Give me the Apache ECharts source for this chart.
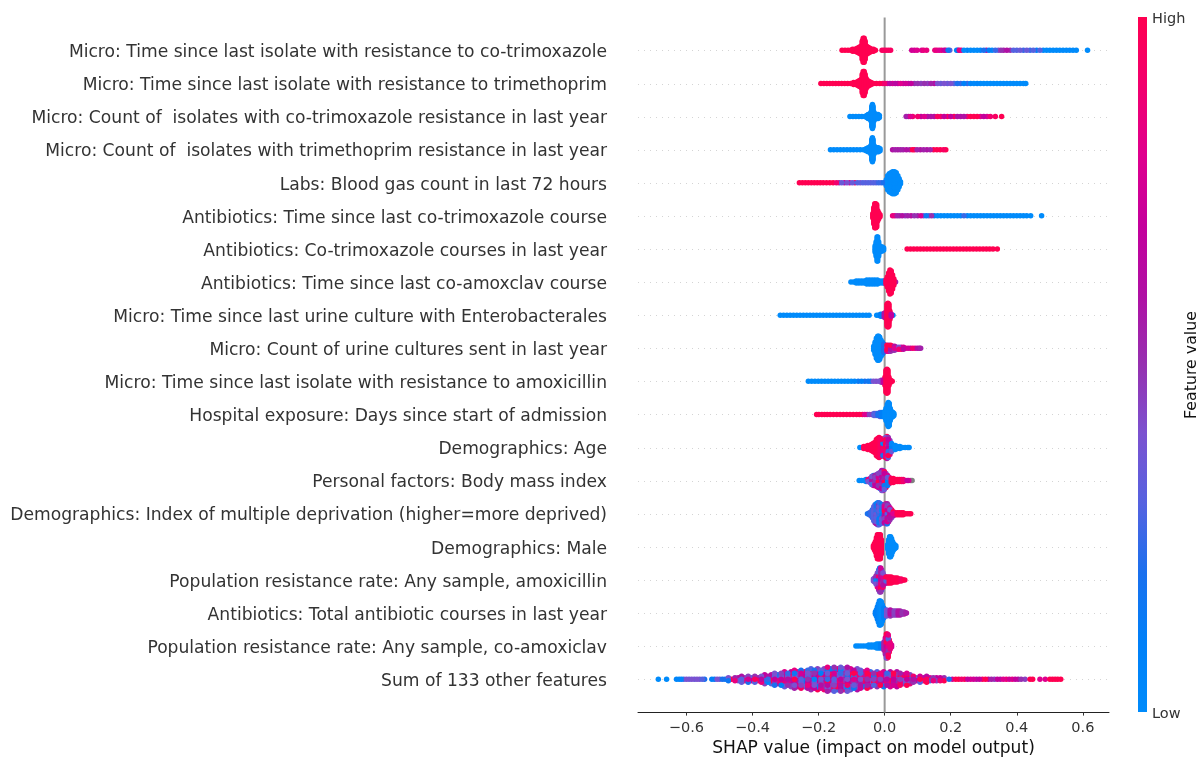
<!DOCTYPE html>
<html><head><meta charset="utf-8">
<style>html,body{margin:0;padding:0;background:#fff}#c{width:1204px;height:763px}</style>
<script src="https://cdn.jsdelivr.net/npm/echarts@6/dist/echarts.min.js"></script>
</head><body><div id="c"></div>
<script>
const features = [
"Micro: Time since last isolate with resistance to co-trimoxazole",
"Micro: Time since last isolate with resistance to trimethoprim",
"Micro: Count of  isolates with co-trimoxazole resistance in last year",
"Micro: Count of  isolates with trimethoprim resistance in last year",
"Labs: Blood gas count in last 72 hours",
"Antibiotics: Time since last co-trimoxazole course",
"Antibiotics: Co-trimoxazole courses in last year",
"Antibiotics: Time since last co-amoxclav course",
"Micro: Time since last urine culture with Enterobacterales",
"Micro: Count of urine cultures sent in last year",
"Micro: Time since last isolate with resistance to amoxicillin",
"Hospital exposure: Days since start of admission",
"Demographics: Age",
"Personal factors: Body mass index",
"Demographics: Index of multiple deprivation (higher=more deprived)",
"Demographics: Male",
"Population resistance rate: Any sample, amoxicillin",
"Antibiotics: Total antibiotic courses in last year",
"Population resistance rate: Any sample, co-amoxiclav",
"Sum of 133 other features"];
const xTicks = [-0.6,-0.4,-0.2,0,0.2,0.4,0.6];
const rampColors = ['#008bfb','#0080f8','#1a70ee','#5562e0','#7b52d0','#9630b0','#b010a4','#c4009c','#df008e','#f2006e','#ff0051'];

const mixCool = [.4,.2,.7,.35,.9,.45,.1,.6,.35,.8,.25,.5,1,.35,.65,.15,.4,.85,.55,.3,.6,.35,.75,.45,.2,.95,.5,.3,.65,.4,.85,.25,.6,.05,.7,.35,.5];
const mixBlob = [.6,.4,1,.45,.75,.55,.15,.85,.45,.7,.35,.95,.6,.25,.8,.45,.7,1,.5,.3,.65,.85,.4,.6,.15,.75,1,.45,.6,.35,.8,.65,.5,.3,.9,.45,.7];
const mixWarm = [.9,.6,1,.75,.45,1,.85,.55,.95,.7,1,.4,.8,1,.6,.9,.5,1,.75,.3,.95,.65,1,.85,.5,.9,.7,1,.55,.8,1,.45,.95,.6,.85,1,.7];
const mixBlue = [.25,.1,.4,.2,.05,.35,.15,.5,.25,.3,.1,.45,.2,.35,.05,.6,.25,.15,.4,.3,.1,.5,.2,.35,.15,.75,.3];
const mixPurple = [.55,.7,.45,.8,.6,.5,.9,.4,.65,.75,.5,.6,.85,.45,.7,.55,1,.4,.6,.75,.5];
const mixRedBlue = [1,.9,.7,1,.05,.85,1,.6,.95,.2,1,.75,.5,1,.9,.1,.7,1,.85,.4,1,.65,.95];

const row0 = [[-.129,1,1],[-.12,1,1],[-.111,1,1],[-.103,1,1],[-.097,2,1],[-.09,2,1],[-.083,3,1],[-.077,4,1],[-.072,5,1],[-.068,10,1],[-.065,13,1],[-.062,13,1],[-.059,10,1],[-.055,5,1],[-.05,4,1],[-.045,3,1],[-.04,2,1],[-.034,2,1],[-.028,1,1],[-.008,1,.95],[-.002,1,.95],[.004,1,.95],[.011,1,.95],[.018,1,.95],[.082,1,.75],[.09,1,.75],[.098,1,.8],[.112,1,.8],[.118,1,.85],[.127,1,.85],[.152,1,.85],[.158,1,.9],[.165,1,.8],[.172,1,.9],[.18,1,.7],[.185,1,.9],[.192,1,.15],[.197,1,.3],[.218,1,.1],[.222,1,.6],[.226,1,.85],[.232,1,.8],[.24,1,0],[.25,1,.1],[.26,1,0],[.27,1,0],[.28,1,0],[.29,1,.05],[.3,1,.2],[.308,1,.6],[.316,1,.1],[.325,1,0],[.335,1,.25],[.344,1,.4],[.352,1,.5],[.36,1,.55],[.37,1,.6],[.38,1,.5],[.39,1,.3],[.4,1,.3],[.41,1,.35],[.42,1,.25],[.43,1,.35],[.44,1,.25],[.45,1,.3],[.46,1,.1],[.47,1,.3],[.48,1,0],[.49,1,0],[.5,1,0],[.51,1,0],[.52,1,0],[.53,1,0],[.54,1,0],[.55,1,0],[.56,1,0],[.57,1,0],[.58,1,0],[.614,1,0]];
const row1 = [[-.193,1,1],[-.184,1,1],[-.175,1,1],[-.166,1,1],[-.157,1,1],[-.148,1,1],[-.139,1,1],[-.13,1,1],[-.121,1,1],[-.112,1,1],[-.103,1,1],[-.094,2,1],[-.087,2,1],[-.081,3,1],[-.076,4,1],[-.071,5,1],[-.068,10,1],[-.065,13,1],[-.062,13,1],[-.059,10,1],[-.056,6,1],[-.052,4,1],[-.047,3,1],[-.041,2,1],[-.034,1,1],[-.025,1,1],[-.015,1,1],[-.006,1,.95],[0,1,.9],[.008,1,.75],[.016,1,.65],[.024,1,.8],[.032,1,.65],[.04,1,.7],[.048,1,.8],[.056,1,.65],[.064,1,.75],[.072,1,.6],[.08,1,.7],[.09,1,.5],[.1,1,.5],[.11,1,.45],[.12,1,.5],[.13,1,.45],[.14,1,.55],[.15,1,.65],[.16,1,.4],[.17,1,.35],[.18,1,.4],[.19,1,.35],[.2,1,.4],[.21,1,.3],[.22,1,.2],[.23,1,.25],[.24,1,.1],[.25,1,.25],[.26,1,.05],[.27,1,0],[.28,1,.05],[.29,1,0],[.3,1,0],[.31,1,0],[.32,1,0],[.33,1,0],[.34,1,0],[.35,1,0],[.36,1,0],[.37,1,0],[.38,1,0],[.39,1,0],[.4,1,0],[.41,1,0],[.42,1,0],[.427,1,0]];
const row2 = [[-.105,1,0],[-.096,1,0],[-.087,1,0],[-.078,1,0],[-.069,1,0],[-.06,1,0],[-.054,2,0],[-.05,3,0],[-.046,3,0],[-.042,5,0],[-.039,11,0],[-.037,13,0],[-.035,11,0],[-.032,5,0],[-.028,3,0],[-.024,3,0],[-.02,3,0],[-.016,2,0],[.065,1,.55],[.072,1,.6],[.078,1,.8],[.085,1,.9],[.1,1,.9],[.11,1,.7],[.12,1,.8],[.13,1,.6],[.14,1,.6],[.15,1,.65],[.16,1,.95],[.17,1,.9],[.18,1,.7],[.19,1,.95],[.2,1,.7],[.21,1,1],[.22,1,.6],[.23,1,.6],[.24,1,.6],[.25,1,.9],[.26,1,1],[.27,1,1],[.28,1,1],[.29,1,.8],[.3,1,.7],[.31,1,.8],[.32,1,.9],[.335,1,.95],[.354,1,1]];
const row3 = [[-.164,1,0],[-.154,1,0],[-.144,1,0],[-.134,1,0],[-.124,1,0],[-.114,1,0],[-.104,1,0],[-.094,1,0],[-.084,1,0],[-.074,1,0],[-.064,1,0],[-.056,2,0],[-.05,3,0],[-.046,3,0],[-.042,5,0],[-.039,11,0],[-.037,13,0],[-.035,11,0],[-.032,5,0],[-.028,3,0],[-.024,3,0],[-.019,3,0],[-.014,2,0],[.024,1,.6],[.032,1,.55],[.04,1,.6],[.048,1,.55],[.056,1,.55],[.066,1,.6],[.076,1,.55],[.084,1,1],[.09,1,1],[.098,1,.55],[.108,1,.6],[.118,1,.55],[.128,1,.6],[.138,1,.55],[.148,1,1],[.158,1,1],[.168,1,1],[.178,1,.95],[.185,1,1]];
const row4 = [[-.258,1,1],[-.249,1,1],[-.24,1,1],[-.231,1,1],[-.222,1,1],[-.213,1,1],[-.204,1,1],[-.195,1,1],[-.186,1,1],[-.176,1,1],[-.166,1,1],[-.156,1,1],[-.146,1,.9],[-.138,1,.55],[-.13,1,.35],[-.122,1,.7],[-.114,1,.4],[-.106,1,.75],[-.098,1,.35],[-.09,1,.9],[-.082,1,.3],[-.074,1,.4],[-.066,1,.3],[-.058,1,.35],[-.05,1,.3],[-.042,1,.35],[-.034,1,.3],[-.026,1,.3],[-.018,1,.25],[-.01,1,.25],[-.003,1,.2],[.005,4,0],[.009,8,0],[.014,10,0],[.019,11,0],[.024,12,0],[.03,12,0],[.035,11,0],[.04,8,0],[.044,5,0],[.048,2,0]];
const row5 = [[-.036,3,1],[-.033,9,1],[-.03,13,1],[-.027,13,1],[-.024,12,1],[-.021,6,1],[-.018,4,1],[-.014,2,1],[.024,1,.85],[.031,1,.8],[.038,1,.55],[.045,1,.5],[.053,1,.6],[.062,1,.45],[.07,1,.55],[.08,1,.65],[.09,1,.5],[.1,1,.55],[.11,1,.75],[.118,1,.3],[.126,1,.15],[.134,1,.3],[.142,1,.5],[.15,1,.1],[.16,1,0],[.17,1,0],[.18,1,0],[.19,1,0],[.2,1,0],[.21,1,0],[.22,1,0],[.23,1,.05],[.24,1,.25],[.25,1,.05],[.26,1,0],[.27,1,0],[.28,1,0],[.29,1,0],[.3,1,0],[.31,1,0],[.32,1,0],[.33,1,0],[.34,1,0],[.35,1,0],[.36,1,0],[.37,1,0],[.38,1,0],[.39,1,0],[.4,1,0],[.41,1,0],[.42,1,0],[.43,1,0],[.442,1,0],[.475,1,0]];
const row6 = [[-.029,4,0],[-.026,8,0],[-.023,13,0],[-.021,13,0],[-.018,8,0],[-.015,4,0],[-.011,3,0],[-.007,3,0],[-.003,2,0],[.068,1,1],[.078,1,1],[.088,1,1],[.098,1,1],[.108,1,1],[.118,1,1],[.128,1,1],[.138,1,1],[.148,1,1],[.158,1,1],[.168,1,1],[.178,1,1],[.188,1,1],[.198,1,1],[.208,1,1],[.218,1,1],[.228,1,1],[.238,1,1],[.248,1,1],[.258,1,1],[.268,1,1],[.278,1,1],[.288,1,1],[.298,1,1],[.308,1,1],[.318,1,1],[.328,1,1],[.341,1,1]];
const row7 = [[-.102,1,0],[-.094,1,0],[-.086,2,0],[-.078,2,0],[-.07,2,0],[-.062,2,0],[-.054,3,0],[-.046,3,0],[-.038,3,0],[-.03,3,0],[-.022,3,0],[-.014,2,0],[-.006,2,0],[.0,2,.05],[.004,3,1],[.008,6,1],[.012,10,1],[.016,13,1],[.02,12,1],[.024,8,1],[.028,4,1],[.033,1,.55]];
const row8 = [[-.316,1,0],[-.306,1,0],[-.296,1,0],[-.286,1,0],[-.276,1,0],[-.266,1,0],[-.256,1,0],[-.246,1,0],[-.236,1,0],[-.226,1,0],[-.216,1,0],[-.206,1,0],[-.196,1,0],[-.186,1,0],[-.176,1,0],[-.166,1,0],[-.156,1,0],[-.146,1,0],[-.136,1,0],[-.126,1,0],[-.116,1,0],[-.106,1,0],[-.096,1,0],[-.086,1,0],[-.076,1,0],[-.066,1,0],[-.056,1,0],[-.047,1,0],[-.024,1,0],[-.018,1,.05],[-.012,2,.1],[-.006,2,.7],[-.001,3,.6],[.004,4,1],[.007,12,1],[.01,13,1],[.013,12,1],[.016,5,1],[.02,2,.7],[.025,1,.1]];
const row9 = [[-.033,3,0],[-.029,7,0],[-.025,11,0],[-.021,13,0],[-.018,13,0],[-.015,12,0],[-.011,9,0],[-.007,7,.1],[-.003,5,.2],[.002,4,mixCool],[.007,4,mixWarm],[.012,4,mixWarm],[.018,4,mixWarm],[.024,3,mixWarm],[.03,3,mixPurple],[.036,2,mixPurple],[.043,2,mixPurple],[.05,2,mixWarm],[.057,2,mixPurple],[.064,1,.9],[.071,1,.75],[.078,1,.7],[.085,1,.9],[.092,1,.8],[.099,1,.6],[.105,1,.6],[.109,1,.55]];
const row10 = [[-.231,1,0],[-.221,1,0],[-.211,1,0],[-.201,1,0],[-.191,1,0],[-.181,1,0],[-.171,1,0],[-.161,1,0],[-.151,1,0],[-.141,1,0],[-.131,1,0],[-.121,1,0],[-.111,1,0],[-.101,1,0],[-.091,1,.05],[-.08,1,.15],[-.07,1,.1],[-.06,1,.2],[-.05,1,.15],[-.042,1,.2],[-.034,1,.4],[-.026,1,.45],[-.018,1,.4],[-.01,2,.5],[-.004,2,.7],[.001,5,1],[.004,12,1],[.007,13,1],[.01,12,1],[.013,5,1],[.018,2,1],[.023,1,1]];
const row11 = [[-.206,1,1],[-.199,1,1],[-.19,1,1],[-.182,1,1],[-.174,1,1],[-.165,1,1],[-.155,1,1],[-.145,1,1],[-.135,1,1],[-.125,1,1],[-.115,1,1],[-.105,1,1],[-.095,1,1],[-.085,1,1],[-.076,1,1],[-.067,1,.95],[-.06,1,.8],[-.053,1,.55],[-.046,1,.45],[-.039,1,.55],[-.032,2,.3],[-.026,2,.4],[-.02,2,.2],[-.014,3,.35],[-.008,3,.1],[-.003,3,0],[.001,4,0],[.004,7,0],[.008,11,0],[.011,13,0],[.014,12,0],[.017,7,0],[.021,4,0],[.025,3,0],[.028,2,0]];
const row12 = [[-.075,1,0],[-.069,1,.8],[-.063,2,1],[-.057,2,1],[-.051,3,1],[-.045,3,1],[-.04,4,1],[-.035,5,1],[-.03,6,1],[-.025,9,1],[-.021,10,1],[-.017,11,1],[-.013,10,.95],[-.009,9,.9],[-.005,9,mixRedBlue],[-.001,10,mixWarm],[.003,11,mixRedBlue],[.007,12,mixWarm],[.011,11,mixBlob],[.016,8,mixBlob],[.021,5,mixBlue],[.026,3,.1],[.032,3,0],[.038,2,0],[.046,2,0],[.054,1,0],[.062,1,0],[.07,1,0],[.074,1,0]];
const row13 = [[-.077,1,0],[-.07,1,0],[-.063,1,0],[-.056,2,.1],[-.05,2,mixCool],[-.044,3,.45],[-.039,5,mixBlue],[-.034,6,mixCool],[-.029,6,mixPurple],[-.024,7,mixCool],[-.019,8,mixPurple],[-.014,9,mixBlue],[-.009,11,mixBlob],[-.005,11,mixCool],[-.001,10,mixBlob],[.004,8,mixBlob],[.009,6,mixBlue],[.014,4,mixWarm],[.02,3,1],[.026,3,1],[.032,2,1],[.038,2,1],[.044,2,1],[.05,2,1],[.056,2,.9],[.062,1,1],[.068,1,.7],[.073,1,.75]];
const row14 = [[-.052,1,.2],[-.046,2,.3],[-.041,3,.25],[-.037,5,.2],[-.033,8,.3],[-.029,10,mixBlue],[-.025,11,mixBlue],[-.021,12,mixBlue],[-.017,12,mixBlue],[-.013,11,mixBlue],[-.009,10,mixBlue],[-.005,10,mixCool],[-.001,10,mixBlob],[.004,11,mixBlob],[.008,11,mixBlob],[.012,9,mixPurple],[.016,7,mixPurple],[.021,5,mixWarm],[.026,3,mixWarm],[.032,2,mixPurple],[.038,2,1],[.044,2,1],[.05,2,1],[.056,2,1],[.062,1,1],[.068,1,1],[.074,1,1],[.079,1,1]];
const row15 = [[-.034,2,1],[-.031,4,1],[-.028,6,1],[-.025,10,1],[-.022,13,1],[-.019,13,1],[-.016,13,1],[-.013,13,1],[-.01,8,1],[.009,3,0],[.012,8,0],[.015,11,0],[.018,11,0],[.021,9,0],[.024,6,0],[.027,4,0],[.03,3,0],[.034,2,0]];
const row16 = [[-.034,2,.4],[-.03,3,.45],[-.026,5,mixCool],[-.022,8,mixPurple],[-.018,11,mixCool],[-.015,13,mixCool],[-.012,13,mixPurple],[-.009,11,mixCool],[-.005,8,mixPurple],[-.001,5,mixCool],[.004,4,mixWarm],[.009,4,mixWarm],[.014,4,1],[.02,4,1],[.026,3,1],[.032,3,1],[.038,3,1],[.044,2,1],[.05,2,.95],[.056,1,1],[.061,1,1]];
const row17 = [[-.028,2,.1],[-.025,4,0],[-.022,7,.1],[-.019,10,0],[-.016,13,.05],[-.013,13,0],[-.01,12,0],[-.007,9,.05],[-.003,6,.1],[.001,4,.2],[.006,4,.4],[.011,3,.45],[.017,4,mixPurple],[.023,3,.5],[.029,3,.45],[.035,3,.5],[.041,3,.6],[.047,3,.55],[.053,2,.5],[.059,2,.6],[.064,1,.55],[.066,1,.6]];
const row18 = [[-.087,1,0],[-.08,1,0],[-.072,1,0],[-.064,1,0],[-.056,1,0],[-.048,2,0],[-.04,2,0],[-.032,2,0],[-.024,3,0],[-.018,3,.05],[-.012,3,.1],[-.006,3,.3],[-.002,5,.55],[.002,9,mixPurple],[.005,13,mixWarm],[.008,13,mixWarm],[.011,12,mixWarm],[.014,7,1],[.017,4,.85],[.021,2,.75]];
const row19 = [[-.685,1,0],[-.66,1,0],[-.63,1,.05],[-.622,1,0],[-.615,1,.05],[-.608,1,.3],[-.6,1,.4],[-.592,1,.35],[-.584,1,.4],[-.576,1,.35],[-.568,1,.4],[-.56,1,.4],[-.552,1,.3],[-.545,1,.2],[-.523,1,.1],[-.515,1,.15],[-.507,1,.4],[-.499,1,.35],[-.491,1,.2],[-.483,1,.15],[-.473,2,mixCool],[-.463,1,mixCool],[-.453,2,mixCool],[-.443,2,mixCool],[-.433,3,mixCool],[-.423,2,mixBlob],[-.413,3,mixCool],[-.403,2,mixBlob],[-.393,3,mixCool],[-.383,2,mixBlob],[-.373,3,mixCool],[-.363,4,mixBlob],[-.353,3,mixCool],[-.343,4,mixBlob],[-.333,5,mixCool],[-.323,4,mixBlob],[-.313,5,mixCool],[-.303,6,mixBlob],[-.293,5,mixCool],[-.283,6,mixBlob],[-.273,7,mixCool],[-.263,6,mixBlob],[-.253,7,mixCool],[-.243,6,mixBlob],[-.233,7,mixCool],[-.223,8,mixBlob],[-.213,7,mixCool],[-.203,8,mixBlob],[-.193,7,mixCool],[-.183,8,mixBlob],[-.173,9,mixCool],[-.163,8,mixBlob],[-.153,9,mixCool],[-.143,8,mixBlob],[-.133,9,mixCool],[-.123,8,mixBlob],[-.113,9,mixCool],[-.103,8,mixBlob],[-.093,7,mixCool],[-.083,8,mixBlob],[-.073,7,mixCool],[-.063,6,mixBlob],[-.053,7,mixWarm],[-.043,6,mixBlob],[-.033,5,mixCool],[-.023,6,mixBlob],[-.013,5,mixWarm],[-.003,6,mixBlob],[.007,5,mixCool],[.017,6,mixBlob],[.027,5,mixWarm],[.037,6,mixBlob],[.047,5,mixWarm],[.057,4,mixBlob],[.067,5,mixWarm],[.077,4,mixBlob],[.087,3,mixWarm],[.097,2,mixBlob],[.107,3,mixWarm],[.117,2,mixBlob],[.127,3,mixWarm],[.137,2,mixBlob],[.147,2,mixWarm],[.157,2,mixBlob],[.168,2,mixWarm],[.18,2,mixBlob],[.195,1,.2],[.205,1,.75],[.215,1,1],[.224,1,1],[.233,1,.9],[.242,1,1],[.251,1,.7],[.26,1,.8],[.269,1,.75],[.278,1,.6],[.287,1,.7],[.296,1,.95],[.305,1,1],[.314,1,.7],[.323,1,.55],[.332,1,.45],[.341,1,.7],[.35,1,.6],[.359,1,.8],[.368,1,.9],[.377,1,.75],[.386,1,.85],[.395,1,.7],[.404,1,.6],[.413,1,.5],[.425,1,.45],[.44,1,1],[.448,1,1],[.47,1,.8],[.486,1,.8],[.5,1,1],[.508,1,1],[.516,1,1],[.524,1,1],[.533,1,1]];
const missingValues = [[.079,13],[.083,13]];

const rows = [row0,row1,row2,row3,row4,row5,row6,row7,row8,row9,row10,row11,row12,row13,row14,row15,row16,row17,row18,row19];
const rowPx = 33.1, basePx = 2, lastPx = 3;
const swarm = [];
rows.forEach((cols, r) => {
  const step = (r === 19 ? lastPx : basePx) / rowPx;
  // odd columns are laid down first, so even columns sit on top as whole dots
  const ordered = cols.filter((_, i) => i % 2).concat(cols.filter((_, i) => !(i % 2)));
  ordered.forEach(([x, n, c]) => {
    const pts = [];
    for (let i = 0; i < n; i++) {
      const k = Math.ceil(i / 2) * (i % 2 ? 1 : -1);
      const off = (k + (n % 2 ? 0 : -0.5)) * step;
      let level = c;
      if (Array.isArray(c)) { c.p = ((c.p || 0) + 1) % c.length; level = c[c.p]; }
      pts.push([x, 19 - r + 0.01 + off, level, k]);
    }
    pts.filter(p => p[3] % 2).concat(pts.filter(p => !(p[3] % 2))).forEach(p => swarm.push(p.slice(0, 3)));
  });
});
const chart = echarts.init(document.getElementById('c'), null, {renderer: 'canvas'});
const FONT = '"DejaVu Sans"';
chart.setOption({
  animation: false,
  backgroundColor: '#fff',
  grid: {left: 638, right: 95, top: 17.6, height: 695, outerBoundsMode: 'none'},
  xAxis: {
    type: 'value', min: -0.7465, max: 0.679,
    name: 'SHAP value (impact on model output)', nameLocation: 'center', nameGap: 27,
    nameTextStyle: {fontFamily: FONT, fontSize: 17.1, color: '#111'},
    axisLine: {show: true, onZero: false, lineStyle: {color: '#222', width: 1}},
    axisTick: {show: true, length: 3, lineStyle: {color: '#333'}, customValues: xTicks},
    axisLabel: {fontFamily: FONT, fontSize: 14.5, color: '#333', margin: 8, customValues: xTicks,
      formatter: v => (v < 0 ? '\u2212' : '') + Math.abs(v).toFixed(1)},
    splitLine: {show: false}
  },
  yAxis: {
    type: 'value', min: -1, max: 20, interval: 1,
    axisLine: {show: false}, axisTick: {show: false},
    axisLabel: {fontFamily: FONT, fontSize: 17.15, color: '#333', margin: 31, align: 'right', verticalAlign: 'top', lineHeight: 4,
      formatter: v => (v >= 0 && v <= 19) ? features[19 - v] : ''},
    splitLine: {show: true, showMinLine: false, showMaxLine: false,
      lineStyle: {color: '#d4d4d4', width: 1, type: [1, 5]}}
  },
  visualMap: {
    type: 'continuous', show: false, seriesIndex: 1, dimension: 2, min: 0, max: 1,
    inRange: {color: rampColors}
  },
  graphic: [
    {type: 'rect', silent: true, shape: {x: 1138, y: 17, width: 9, height: 695},
      style: {fill: new echarts.graphic.LinearGradient(0, 1, 0, 0,
        rampColors.map((color, i) => ({offset: i / (rampColors.length - 1), color})))}},
    {type: 'text', left: 1152, top: 12, silent: true, style: {text: 'High', font: '14.5px "DejaVu Sans"', fill: '#333'}},
    {type: 'text', left: 1152, top: 707, silent: true, style: {text: 'Low', font: '14.5px "DejaVu Sans"', fill: '#333'}},
    {type: 'text', x: 1192, y: 365, rotation: Math.PI / 2, silent: true,
      style: {text: 'Feature value', font: '15.8px "DejaVu Sans"', fill: '#111', align: 'center', verticalAlign: 'middle'}}
  ],
  series: [
    {type: 'line', silent: true, z: 1, symbol: 'none', data: [[0, -1], [0, 20]],
      lineStyle: {color: '#999', width: 2}},
    {type: 'scatter', silent: true, z: 3, symbol: 'circle', symbolSize: 5.5, large: false, progressive: 0,
      data: swarm, itemStyle: {opacity: 1}},
    {type: 'scatter', silent: true, z: 2, symbol: 'circle', symbolSize: 5.5, progressive: 0,
      data: missingValues.map(([x, r]) => [x, 19 - r + 0.01]), itemStyle: {color: '#808080', opacity: 1}}
  ]
});
</script></body></html>
